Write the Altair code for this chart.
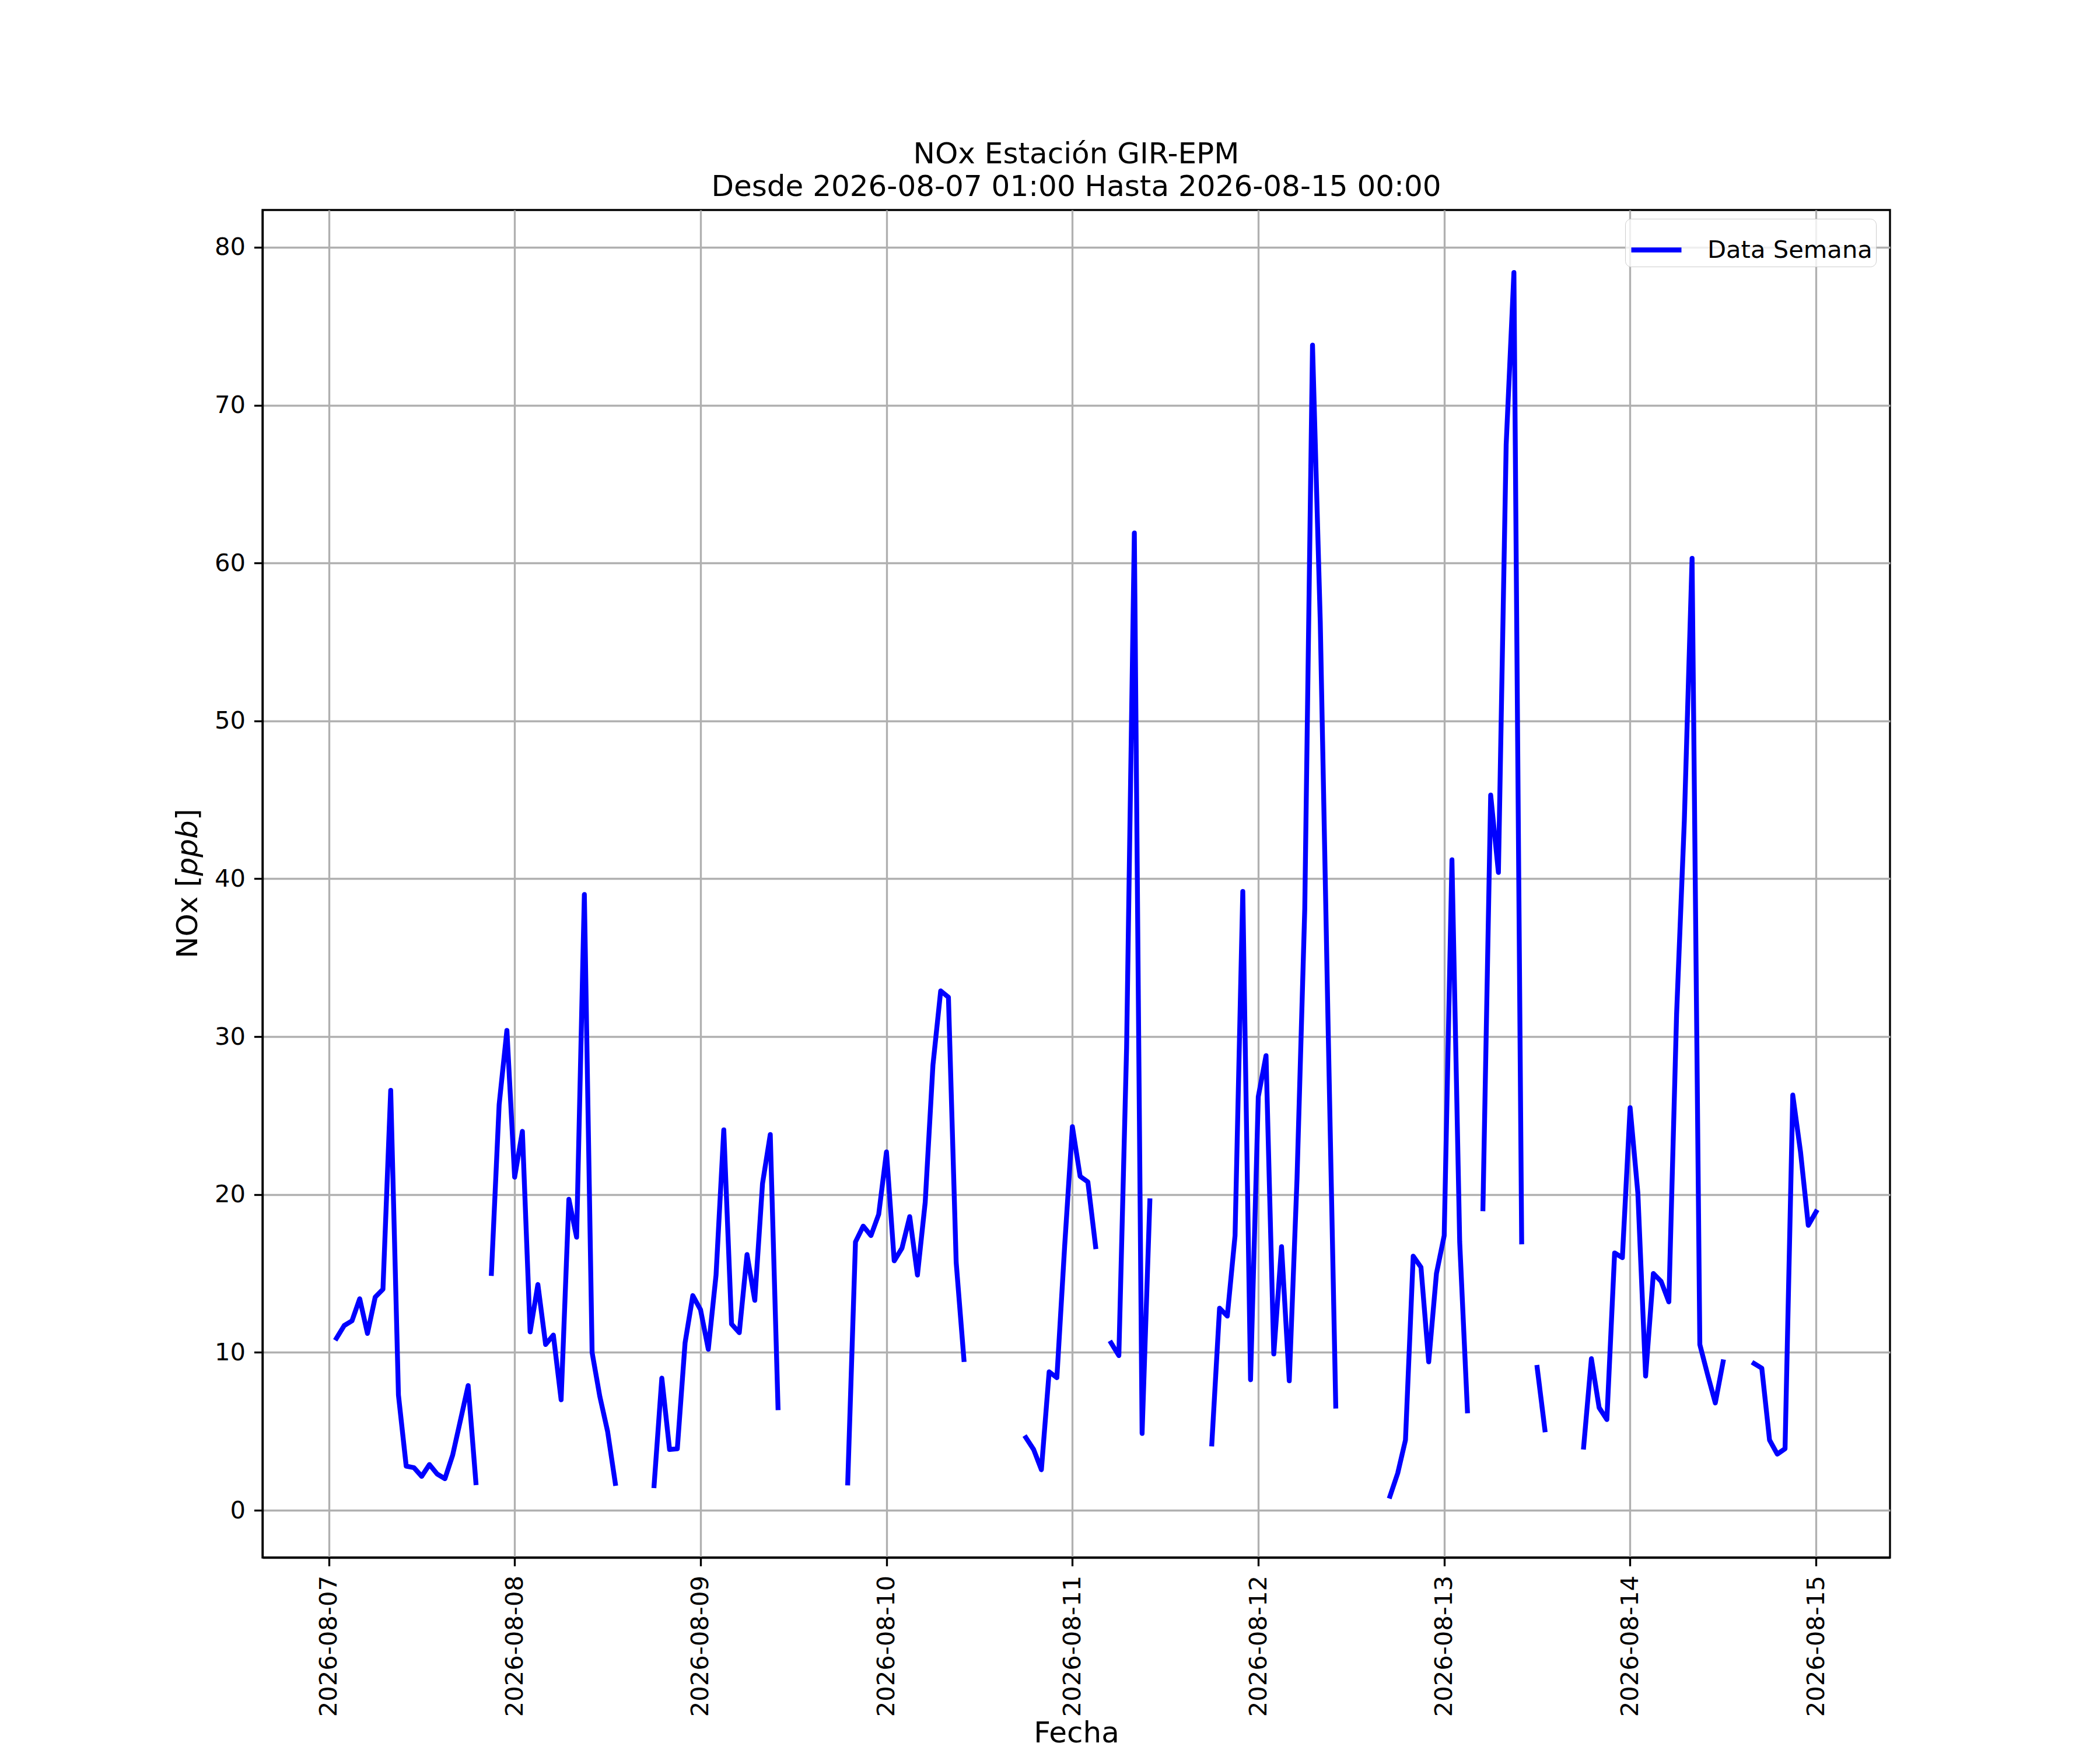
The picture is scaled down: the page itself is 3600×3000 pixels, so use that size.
import altair as alt
import pandas as pd

# ---- data: hourly NOx segments (start hour, values); gaps between segments are missing hours
seg_starts = [
    "2026-08-07T01:00:00Z", "2026-08-07T21:00:00Z", "2026-08-08T18:00:00Z",
    "2026-08-09T19:00:00Z", "2026-08-10T18:00:00Z", "2026-08-11T05:00:00Z",
    "2026-08-11T18:00:00Z", "2026-08-12T17:00:00Z", "2026-08-13T05:00:00Z",
    "2026-08-13T12:00:00Z", "2026-08-13T18:00:00Z", "2026-08-14T16:00:00Z",
]
seg01 = [10.9, 11.7, 12.0, 13.4, 11.2, 13.5, 14.0, 26.6, 7.3, 2.8, 2.7, 2.15, 2.9, 2.3, 2.0, 3.5, 5.7, 7.9, 1.75]
seg02 = [15.0, 25.7, 30.4, 21.1, 24.0, 11.3, 14.3, 10.5, 11.1, 7.0, 19.7, 17.3, 39.0, 10.0, 7.2, 5.0, 1.7]
seg03 = [1.56, 8.37, 3.85, 3.9, 10.6, 13.6, 12.7, 10.2, 14.9, 24.1, 11.8, 11.25, 16.2, 13.3, 20.7, 23.8, 6.5]
seg04 = [1.73, 17.0, 18.0, 17.4, 18.75, 22.7, 15.8, 16.6, 18.6, 14.9, 19.5, 28.2, 32.9, 32.5, 15.7, 9.55]
seg05 = [4.6, 3.85, 2.57, 8.77, 8.4, 16.7, 24.3, 21.15, 20.8, 16.7]
seg06 = [10.6, 9.8, 29.3, 61.9, 4.87, 19.6]
seg07 = [4.2, 12.8, 12.3, 17.4, 39.2, 8.27, 26.2, 28.8, 9.9, 16.7, 8.2, 21.0, 38.1, 73.8, 56.3, 31.0, 6.6]
seg08 = [0.89, 2.35, 4.45, 16.1, 15.4, 9.4, 15.0, 17.4, 41.2, 17.0, 6.3]
seg09 = [19.1, 45.3, 40.4, 67.5, 78.4, 17.0]
seg10 = [9.05, 5.1]
seg11 = [4.0, 9.6, 6.5, 5.75, 16.3, 16.0, 25.5, 20.1, 8.5, 15.0, 14.5, 13.2, 31.4, 43.7, 60.3, 10.5, 8.6, 6.8, 9.4]
seg12 = [9.3, 9.0, 4.45, 3.56, 3.9, 26.3, 22.7, 18.05, 18.9]
segments = [seg01, seg02, seg03, seg04, seg05, seg06, seg07, seg08, seg09, seg10, seg11, seg12]

day_ticks = ["2026-08-07", "2026-08-08", "2026-08-09", "2026-08-10", "2026-08-11",
             "2026-08-12", "2026-08-13", "2026-08-14", "2026-08-15"]
y_ticks = [0, 10, 20, 30, 40, 50, 60, 70, 80]
series_name = "Data Semana"

rows = []
for i, (start, vals) in enumerate(zip(seg_starts, segments)):
    times = pd.date_range(start.replace("Z", ""), periods=len(vals), freq="h")
    for t, v in zip(times, vals):
        rows.append({"fecha": t.strftime("%Y-%m-%dT%H:%M:%SZ"), "nox": v,
                     "seg": i, "serie": series_name})
df = pd.DataFrame(rows)

FONT = "DejaVu Sans"
PT = 300 / 72.0
W, H = 2790, 2310


def dt(s, h=0, m=0):
    y, mo, d = (int(p) for p in s.split("-"))
    return alt.DateTime(year=y, month=mo, date=d, hours=h, minutes=m, utc=True)


x_axis = alt.Axis(
    values=[dt(d) for d in day_ticks], format="%Y-%m-%d",
    labelAngle=270, labelAlign="right", labelBaseline="middle",
    labelFont=FONT, labelFontSize=10 * PT, labelColor="black", labelPadding=16,
    labelFlush=False, labelOverlap=False, labelLimit=600,
    tickSize=3.5 * PT, tickWidth=0.8 * PT, tickColor="black",
    domainColor="black", domainWidth=0.8 * PT,
    grid=True, gridColor="#b0b0b0", gridWidth=0.8 * PT,
    title="Fecha", titleFont=FONT, titleFontSize=12 * PT, titleFontWeight="normal",
    titleColor="black", titleBaseline="alphabetic", titleY=316, titleX=W / 2,
    titleAnchor="middle", titleAlign="center",
)
y_axis = alt.Axis(
    values=y_ticks, format="d",
    labelFont=FONT, labelFontSize=10 * PT, labelColor="black", labelPadding=15,
    labelBaseline="middle", labelLimit=400,
    tickSize=3.5 * PT, tickWidth=0.8 * PT, tickColor="black",
    domainColor="black", domainWidth=0.8 * PT,
    grid=True, gridColor="#b0b0b0", gridWidth=0.8 * PT,
    title=None,
)

line = alt.Chart(df).mark_line(
    strokeWidth=2 * PT, strokeCap="square", strokeJoin="round"
).encode(
    x=alt.X("fecha:T", axis=x_axis,
            scale=alt.Scale(type="utc", domain=[dt("2026-08-06", 15, 27), dt("2026-08-15", 9, 33)])),
    y=alt.Y("nox:Q", axis=y_axis,
            scale=alt.Scale(domain=[-2.99, 82.36], nice=False, zero=False)),
    color=alt.Color(
        "serie:N",
        scale=alt.Scale(domain=[series_name], range=["#0000ff"]),
        legend=alt.Legend(
            title=None, orient="none", legendX=2336, legendY=15,
            symbolType="stroke", symbolSize=86 * 86, symbolStrokeWidth=2 * PT,
            labelFont=FONT, labelFontSize=10 * PT, labelColor="black",
            labelOffset=40, labelLimit=800, padding=6,
            fillColor="rgba(255,255,255,0.8)", strokeColor="#cccccc", cornerRadius=10,
        ),
    ),
    detail="seg:N",
)

title_lines = ["NOx Estación GIR-EPM", "Desde 2026-08-07 01:00 Hasta 2026-08-15 00:00"]
t1 = alt.Chart(pd.DataFrame({"t": [title_lines[0]]})).mark_text(
    font=FONT, fontSize=12 * PT, color="black", align="center", baseline="alphabetic"
).encode(text="t:N", x=alt.value(W / 2), y=alt.value(-80))
t2 = alt.Chart(pd.DataFrame({"t": [title_lines[1]]})).mark_text(
    font=FONT, fontSize=12 * PT, color="black", align="center", baseline="alphabetic"
).encode(text="t:N", x=alt.value(W / 2), y=alt.value(-24))

# y-axis title "NOx [ppb]" with italic ppb (mathtext style)
yl_parts = ["NOx [", "ppb", "]"]
yl_style = ["normal", "italic", "normal"]
yl_pos = [1283, 1141.5, 1046]
ylabels = []
for txt, sty, pos in zip(yl_parts, yl_style, yl_pos):
    ylabels.append(
        alt.Chart(pd.DataFrame({"t": [txt]})).mark_text(
            font=FONT, fontSize=12 * PT, color="black", fontStyle=sty,
            align="left", baseline="alphabetic", angle=270,
        ).encode(text="t:N", x=alt.value(-112), y=alt.value(pos))
    )

chart = alt.layer(line, t1, t2, *ylabels).properties(
    width=W, height=H,
    autosize=alt.AutoSizeParams(type="none"),
    padding={"left": 442, "top": 352, "right": 350, "bottom": 330},
    background="white",
).configure_view(stroke="black", strokeWidth=0.8 * PT)

chart.save("out.html", embed_options={"renderer": "svg", "actions": False})
